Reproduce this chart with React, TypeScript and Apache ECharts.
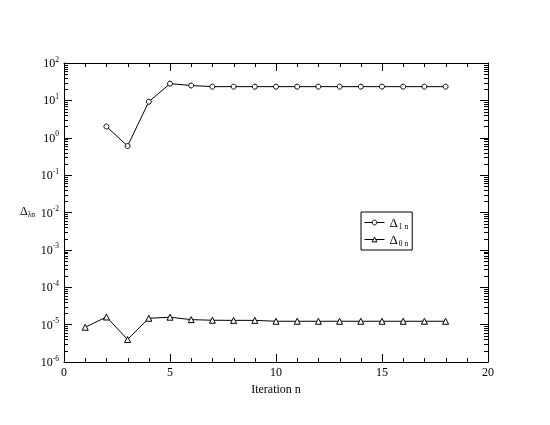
import React, { useEffect, useRef } from "react";
import * as echarts from "echarts";

const iterDelta1 = [2, 3, 4, 5, 6, 7, 8, 9, 10, 11, 12, 13, 14, 15, 16, 17, 18];
const delta1 = [2.0, 0.6, 9.2, 28, 25, 23.3, 23.3, 23.3, 23.3, 23.3, 23.3, 23.3, 23.3, 23.3, 23.3, 23.3, 23.3];
const iterDelta0 = [1, 2, 3, 4, 5, 6, 7, 8, 9, 10, 11, 12, 13, 14, 15, 16, 17, 18];
const delta0 = [8.5e-6, 1.6e-5, 4.0e-6, 1.48e-5, 1.58e-5, 1.36e-5, 1.31e-5, 1.3e-5, 1.3e-5, 1.23e-5, 1.23e-5, 1.23e-5, 1.23e-5, 1.23e-5, 1.23e-5, 1.23e-5, 1.23e-5, 1.23e-5];
const yDecades = [-6, -5, -4, -3, -2, -1, 0, 1, 2];
const minorMultipliers = [2, 3, 4, 5, 6, 7, 8, 9];
const xMinorTicks = [1, 2, 3, 4, 6, 7, 8, 9, 11, 12, 13, 14, 16, 17, 18, 19];
const X_MIN = 0;
const X_MAX = 20;
const Y_MIN = 1e-6;
const Y_MAX = 100;

const FONT = '"Liberation Serif", "Times New Roman", serif';
const BLACK = "#000000";

export default function App() {
  const ref = useRef<HTMLDivElement>(null);
  useEffect(() => {
    if (!ref.current) return;
    const chart = echarts.init(ref.current, null, { renderer: "svg" });
    const minorYVals: number[] = [];
    yDecades.slice(0, -1).forEach((d) => {
      minorMultipliers.forEach((k) => minorYVals.push(parseFloat((k * Math.pow(10, d)).toPrecision(3))));
    });
    const mkLogY = (position: string, labels: boolean) => ({
      type: "log",
      logBase: 10,
      min: Y_MIN,
      max: Y_MAX,
      position,
      axisLine: { show: true, onZero: false, lineStyle: { color: BLACK, width: 1 } },
      splitLine: { show: false },
      axisTick: { show: true, inside: true, length: 8, lineStyle: { color: BLACK, width: 1 } },
      axisLabel: {
        show: labels,
        margin: 5,
        formatter: (v: number) => {
          const e = Math.round(Math.log10(v));
          return `{b|10}{s|${e}}`;
        },
        rich: {
          b: { fontFamily: FONT, fontSize: 12, color: BLACK },
          s: { fontFamily: FONT, fontSize: 7.5, color: BLACK, padding: [0, 0, 8, 0] },
        },
      },
    });
    const mkX = (position: string, labels: boolean) => ({
      type: "value",
      min: X_MIN,
      max: X_MAX,
      interval: 5,
      position,
      name: labels ? "Iteration n" : "",
      nameLocation: "middle",
      nameGap: 18,
      nameTextStyle: { fontFamily: FONT, fontSize: 12, color: BLACK },
      axisLine: { show: true, onZero: false, lineStyle: { color: BLACK, width: 1 } },
      splitLine: { show: false },
      axisTick: { show: true, inside: true, length: 8, lineStyle: { color: BLACK, width: 1 } },
      axisLabel: { show: labels, fontFamily: FONT, fontSize: 12, color: BLACK, margin: 4 },
    });
    const crisp = (v: number) => Math.round(v) + 0.5;
    const tickLine = (x1: number, y1: number, x2: number, y2: number) => ({
      type: "line",
      shape: { x1, y1, x2, y2 },
      style: { stroke: BLACK, lineWidth: 1 },
    });
    chart.setOption({
      animation: false,
      grid: { left: 64, right: 62, top: 63, bottom: 63 },
      xAxis: [mkX("bottom", true), mkX("top", false)],
      yAxis: [mkLogY("left", true), mkLogY("right", false)],
      legend: {
        orient: "vertical",
        left: 361,
        top: 212,
        padding: [4, 4, 3, 3],
        itemGap: 3,
        itemWidth: 20,
        itemHeight: 6,
        borderColor: BLACK,
        borderWidth: 1,
        borderRadius: 0,
        data: ["d1", "d0"],
        itemStyle: { color: "#fff", borderColor: BLACK, borderWidth: 1 },
        lineStyle: { color: BLACK, width: 1 },
        formatter: (name: string) => (name === "d1" ? "{d|Δ}{s|1 n}" : "{d|Δ}{s|0 n}"),
        textStyle: {
          color: BLACK,
          fontFamily: FONT,
          rich: {
            d: { fontFamily: FONT, fontSize: 13, color: BLACK },
            s: { fontFamily: FONT, fontSize: 7.5, color: BLACK, padding: [7, 0, 0, 1] },
          },
        },
      },
      graphic: [
        {
          type: "text",
          left: 20,
          top: 205,
          style: {
            text: "{d|Δ}{s|λn}",
            rich: {
              d: { fontFamily: FONT, fontSize: 12, fill: BLACK },
              s: { fontFamily: FONT, fontSize: 7.5, fill: BLACK, padding: [6, 0, 0, 0] },
            },
          },
        },
      ],
      series: [
        {
          name: "yMinorTicks",
          type: "custom",
          xAxisIndex: 0,
          yAxisIndex: 0,
          silent: true,
          clip: false,
          z: 3,
          encode: { x: 0, y: 1 },
          data: minorYVals.map((v) => [X_MIN, v]),
          renderItem: (params: any, api: any) => {
            const v = api.value(1);
            const pL = api.coord([X_MIN, v]);
            const pR = api.coord([X_MAX, v]);
            const y = crisp(pL[1]);
            const xl = Math.round(pL[0]);
            const xr = Math.round(pR[0]);
            return {
              type: "group",
              children: [tickLine(xl, y, xl + 4, y), tickLine(xr, y, xr - 4, y)],
            };
          },
        },
        {
          name: "xMinorTicks",
          type: "custom",
          xAxisIndex: 0,
          yAxisIndex: 0,
          silent: true,
          clip: false,
          z: 3,
          encode: { x: 0, y: 1 },
          data: xMinorTicks.map((x) => [x, Y_MIN]),
          renderItem: (params: any, api: any) => {
            const xv = api.value(0);
            const pB = api.coord([xv, Y_MIN]);
            const pT = api.coord([xv, Y_MAX]);
            const x = crisp(pB[0]);
            const yb = Math.round(pB[1]);
            const yt = Math.round(pT[1]);
            return {
              type: "group",
              children: [tickLine(x, yb, x, yb - 4), tickLine(x, yt, x, yt + 4)],
            };
          },
        },
        {
          name: "d1",
          type: "line",
          xAxisIndex: 0,
          yAxisIndex: 0,
          data: iterDelta1.map((x, i) => [x, delta1[i]]),
          symbol: "circle",
          symbolSize: 5,
          lineStyle: { color: BLACK, width: 1 },
          itemStyle: { color: "#fff", borderColor: BLACK, borderWidth: 1 },
        },
        {
          name: "d0",
          type: "line",
          xAxisIndex: 0,
          yAxisIndex: 0,
          data: iterDelta0.map((x, i) => [x, delta0[i]]),
          symbol: "triangle",
          symbolSize: 6,
          lineStyle: { color: BLACK, width: 1 },
          itemStyle: { color: "#fff", borderColor: BLACK, borderWidth: 1 },
        },
      ],
    });
    return () => chart.dispose();
  }, []);
  return <div ref={ref} style={{ position: "fixed", left: 0, top: 0, width: 550, height: 425 }} />;
}
